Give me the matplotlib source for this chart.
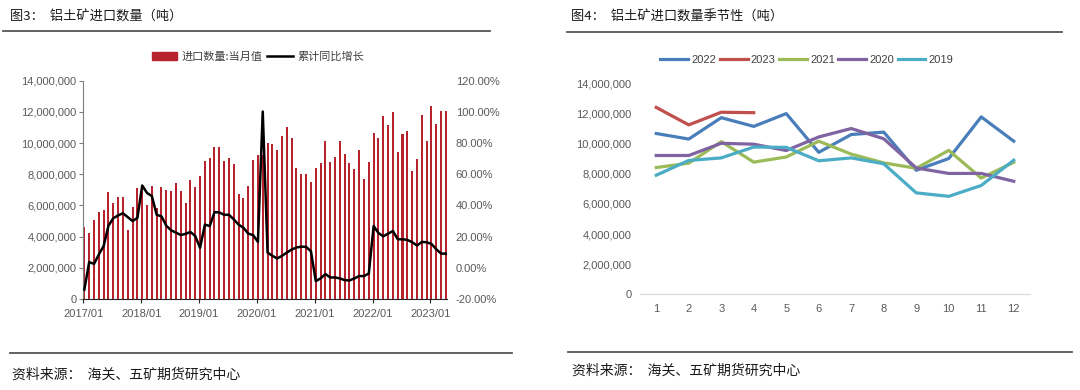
import numpy as np
import matplotlib
matplotlib.use("Agg")
import matplotlib.pyplot as plt
from matplotlib.lines import Line2D
from matplotlib.patches import Patch
from matplotlib.ticker import FuncFormatter

plt.rcParams['font.family'] = ['Noto Sans CJK SC', 'DejaVu Sans']
NUM_FONT = 'Liberation Sans'

# 月度数据 2017/01 - 2023/04
months = [f"{y}/{m:02d}" for y in range(2017, 2024) for m in range(1, 13)][:76]

# 进口数量:当月值（百万吨）
imports_mt = [
    4.62, 4.26, 5.09, 5.57, 5.68, 6.89, 6.13, 6.55, 6.55, 4.45, 5.87, 7.15,   # 2017
    7.28, 6.06, 7.23, 5.83, 7.21, 6.98, 6.91, 7.47, 6.94, 6.13, 7.64, 7.21,   # 2018
    7.90, 8.88, 9.05, 9.77, 9.75, 8.86, 9.05, 8.66, 6.73, 6.50, 7.22, 8.90,   # 2019
    9.21, 9.21, 10.02, 9.96, 9.54, 10.44, 11.00, 10.32, 8.38, 8.02, 8.02, 7.50,  # 2020
    8.41, 8.70, 10.13, 8.77, 9.11, 10.16, 9.30, 8.72, 8.36, 9.55, 7.71, 8.76,   # 2021
    10.67, 10.30, 11.72, 11.14, 11.99, 9.42, 10.60, 10.76, 8.23, 9.01, 11.77, 10.16,  # 2022
    12.40, 11.24, 12.08, 12.05,                                                  # 2023
]

# 累计同比增长（%）
yoy_pct = [
    -14.0, 3.7, 2.5, 8.5, 14.0, 27.0, 31.8, 33.6, 35.0, 32.5, 30.0, 32.0,
    52.8, 48.0, 46.0, 34.0, 33.0, 27.0, 24.0, 22.6, 21.0, 21.8, 23.0, 20.4,
    12.8, 27.7, 26.8, 35.7, 35.5, 34.0, 34.0, 31.0, 27.7, 25.7, 21.9, 21.0,
    16.6, 100.2, 9.8, 7.7, 6.0, 7.7, 9.8, 11.7, 13.0, 13.6, 13.4, 10.6,
    -8.5, -6.8, -4.0, -6.2, -6.2, -6.8, -7.9, -8.1, -6.8, -5.3, -5.3, -3.6,
    26.8, 22.3, 20.2, 21.9, 23.6, 18.3, 18.3, 17.9, 16.4, 14.3, 16.6, 16.4,
    15.3, 11.9, 9.1, 9.1,
]

season_years = ['2022', '2023', '2021', '2020', '2019']
season_colors = ['#4A7EBB', '#C0504D', '#9BBB59', '#8064A2', '#4BACC6']
month_nums = list(range(1, 13))

imports = np.array(imports_mt) * 1e6
yoy = np.array(yoy_pct)
x = np.arange(len(months))

W, H = 1080, 390
fig = plt.figure(figsize=(W / 100, H / 100), dpi=100)


def fx(px):
    return px / W


def fy(py):
    return 1 - py / H


tick_color = '#595959'

# ---------------- 图3 ----------------
ax1 = fig.add_axes([fx(83.3), fy(299), fx(364), 218.3 / H])
ax1.bar(x, imports, width=0.42, align='edge', color='#B7232D', zorder=2)
ax1.set_xlim(0, 75.5)
ax1.set_ylim(0, 14e6)
ax1.set_yticks(np.arange(0, 14e6 + 1, 2e6))
ax1.yaxis.set_major_formatter(FuncFormatter(lambda v, p: f"{v:,.0f}"))
ax1.set_xticks(x[::12])
ax1.set_xticklabels(months[::12])
for s in ['top', 'right']:
    ax1.spines[s].set_visible(False)
ax1.spines['left'].set_color('#7F7F7F')
ax1.spines['bottom'].set_color('#262626')
ax1.tick_params(axis='y', length=3, color='#7F7F7F', pad=2, labelsize=8, labelcolor=tick_color)
ax1.tick_params(axis='x', length=3, color='#262626', pad=4, labelsize=8, labelcolor=tick_color)

ax2 = ax1.twinx()
ax2.plot(x + 0.22, yoy, color='black', lw=1.8, zorder=3)
ax2.set_ylim(-20, 120)
ax2.set_yticks(np.arange(-20, 121, 20))
ax2.yaxis.set_major_formatter(FuncFormatter(lambda v, p: f"{v:.2f}%"))
for s in ax2.spines.values():
    s.set_visible(False)
ax2.tick_params(axis='y', length=0, pad=6, labelsize=8, labelcolor=tick_color)

for lab in ax1.get_xticklabels() + ax1.get_yticklabels() + ax2.get_yticklabels():
    lab.set_fontfamily(NUM_FONT)

leg1 = fig.legend(
    handles=[Patch(color='#B7232D', label='进口数量:当月值'),
             Line2D([], [], color='black', lw=1.8, label='累计同比增长')],
    loc='center', bbox_to_anchor=(fx(258), fy(57)), ncol=2, frameon=False,
    fontsize=8, handlelength=2.3, handleheight=0.7, handletextpad=0.4, columnspacing=0.4,
)
for t in leg1.get_texts():
    t.set_color('#404040')

# ---------------- 图4 ----------------
ax3 = fig.add_axes([fx(640), fy(294.3), fx(390), 211 / H])
for yr, col in zip(season_years, season_colors):
    start = months.index(f"{yr}/01")
    vals = imports[start:start + 12]
    ax3.plot(month_nums[:len(vals)], vals, color=col, lw=2.3, label=yr)
ax3.set_xlim(0.5, 12.5)
ax3.set_ylim(0, 14e6)
ax3.set_yticks(np.arange(0, 14e6 + 1, 2e6))
ax3.yaxis.set_major_formatter(FuncFormatter(lambda v, p: f"{v:,.0f}"))
ax3.set_xticks(month_nums)
for s in ['top', 'right', 'left']:
    ax3.spines[s].set_visible(False)
ax3.spines['bottom'].set_color('#D9D9D9')
ax3.tick_params(axis='y', length=0, pad=6, labelsize=8, labelcolor=tick_color)
ax3.tick_params(axis='x', length=0, pad=7, labelsize=8, labelcolor=tick_color)
for lab in ax3.get_xticklabels() + ax3.get_yticklabels():
    lab.set_fontfamily(NUM_FONT)

leg2 = fig.legend(
    handles=ax3.get_lines(), loc='center', bbox_to_anchor=(fx(807), fy(60)), ncol=5,
    frameon=False, handlelength=2.5, handletextpad=0.3, columnspacing=0.3,
    prop={'family': NUM_FONT, 'size': 8},
)
for t in leg2.get_texts():
    t.set_color('#404040')

# ---------------- 标题、分隔线、来源 ----------------
title_kw = dict(fontsize=9.5, va='center', ha='left', color='#1a1a1a')
fig.text(fx(10), fy(17), '图3：  铝土矿进口数量（吨）', **title_kw)
fig.text(fx(571), fy(17), '图4：  铝土矿进口数量季节性（吨）', **title_kw)

line_kw = dict(color='#555555', lw=1.3)
fig.add_artist(Line2D([fx(3), fx(490)], [fy(31), fy(31)], **line_kw))
fig.add_artist(Line2D([fx(567), fx(1062)], [fy(32), fy(32)], **line_kw))
fig.add_artist(Line2D([fx(10), fx(512)], [fy(353), fy(353)], **line_kw))
fig.add_artist(Line2D([fx(568), fx(1072)], [fy(352), fy(352)], **line_kw))

src_kw = dict(fontsize=10, va='center', ha='left', color='#1a1a1a')
fig.text(fx(12), fy(375), '资料来源：  海关、五矿期货研究中心', **src_kw)
fig.text(fx(572), fy(371), '资料来源：  海关、五矿期货研究中心', **src_kw)

fig.savefig('out.png', dpi=100, facecolor='white')
